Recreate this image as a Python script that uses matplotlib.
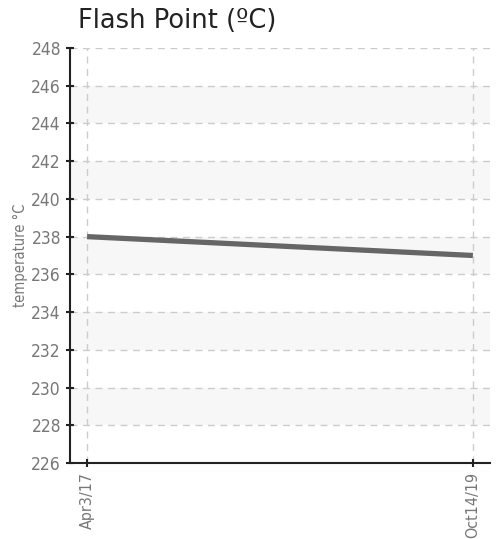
import matplotlib
matplotlib.use("Agg")
import matplotlib.pyplot as plt
from datetime import datetime, timedelta

dates = [datetime(2017, 4, 3), datetime(2019, 10, 14)]
temps = [238.0, 237.0]
tick_labels = ["Apr3/17", "Oct14/19"]
y_ticks = list(range(226, 249, 2))

narrow = ["DejaVu Sans"]
gray = "#777777"

fig = plt.figure(figsize=(5.0, 5.39), dpi=100)
ax = fig.add_axes([0.14, 0.141, 0.84, 0.770])

# alternating horizontal bands
for lo in range(228, 248, 4):
    ax.axhspan(lo, lo + 2, color="#f7f7f7", zorder=0, lw=0)

ax.plot(dates, temps, color="#666666", lw=3.8, solid_capstyle="butt", zorder=3)

pad = timedelta(days=41)
ax.set_xlim(dates[0] - pad, dates[-1] + pad)
ax.set_ylim(226, 248)
ax.set_xticks(dates)
ax.set_xticklabels(tick_labels, rotation=90, family=narrow, stretch="condensed",
                   fontsize=11.5, color=gray)
ax.set_yticks(y_ticks)
ax.set_yticklabels([str(v) for v in y_ticks], family=narrow, stretch="condensed",
                   fontsize=12.5, color=gray)

ax.grid(True, color="#cccccc", linestyle=(0, (5, 4)), lw=1, zorder=1)
ax.set_axisbelow(True)
ax.tick_params(axis="both", direction="inout", length=6, width=1.5, color="#222222")

for s in ["top", "right"]:
    ax.spines[s].set_visible(False)
for s in ["left", "bottom"]:
    ax.spines[s].set_linewidth(1.5)
    ax.spines[s].set_color("#222222")

ax.set_ylabel("temperature °C", family=narrow, stretch="condensed", fontsize=10.5,
              color=gray, labelpad=2)
fig.text(0.157, 0.948, "Flash Point (ºC)", fontsize=18.5, color="#222222",
         ha="left", va="baseline")

fig.savefig("out.png", dpi=100)
